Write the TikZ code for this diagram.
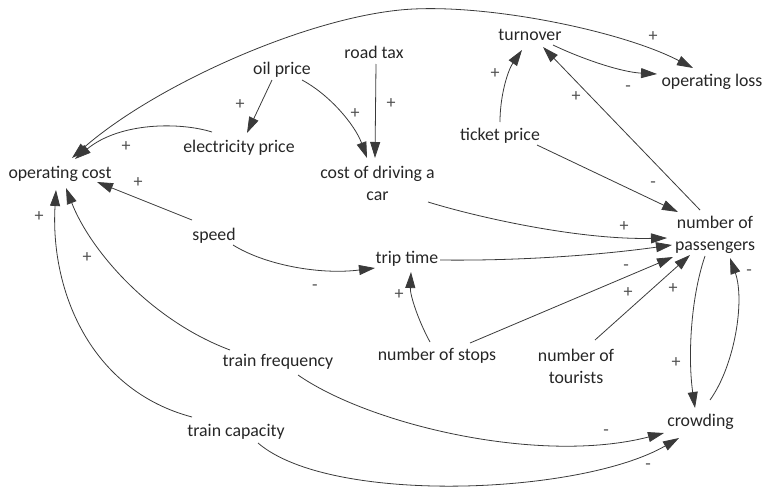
\documentclass[tikz,border=0pt]{standalone}
\usepackage{fontspec}
\setmainfont{Carlito}
\usetikzlibrary{arrows.meta,calc}
\definecolor{txt}{HTML}{262626}
\definecolor{ln}{HTML}{3A3A3A}
\definecolor{sg}{HTML}{505050}
\begin{document}
\begin{tikzpicture}[x=1pt,y=-1pt,
  var/.style={font=\fontsize{17.8}{22}\selectfont, text=txt, inner sep=2pt, text height=13pt, text depth=4pt},
  vartwo/.style={font=\fontsize{17.8}{22}\selectfont, text=txt, inner sep=2pt, align=center},
  sgn/.style={font=\fontsize{18}{20}\selectfont, text=sg, inner sep=0pt},
  arr/.style={color=ln, line width=0.8pt, -{Triangle[length=16pt,width=10pt]}},
  arrboth/.style={color=ln, line width=0.8pt, {Triangle[length=16pt,width=10pt]}-{Triangle[length=16pt,width=10pt]}}
]
\useasboundingbox (0,0) rectangle (765,490);

% variables
\node[var] (opcost) at (60,173.5) {operating cost};
\node[var] (oil) at (282,69.5) {oil price};
\node[var] (road) at (374,53.5) {road tax};
\node[var] (elec) at (239,147.5) {electricity price};
\node[vartwo] (car) at (377.5,183.5) {cost of driving a\\car};
\node[var] (turn) at (530,35.5) {turnover};
\node[var] (loss) at (712,81.5) {operating loss};
\node[var] (ticket) at (500,135.5) {ticket price};
\node[vartwo] (pass) at (715,234.5) {number of\\passengers};
\node[var] (speed) at (214,235.5) {speed};
\node[var] (trip) at (407,259) {trip time};
\node[var] (stops) at (437,355.5) {number of stops};
\node[vartwo] (tour) at (576,366.5) {number of\\tourists};
\node[var] (freq) at (278,362) {train frequency};
\node[var] (cap) at (236,432) {train capacity};
\node[var] (crowd) at (700.5,422) {crowding};

% connectors
\draw[arrboth] ($(opcost.center)+(12,-15.5)$) .. controls (153,87) and (300,20) .. (400,10) .. controls (480,2) and (620,30) .. ($(loss.center)+(-19,-13.5)$);
\draw[arr] ($(elec.center)+(-27,-15.5)$) .. controls (180,122) and (120,122) .. ($(opcost.center)+(15,-14.5)$);
\draw[arr] ($(oil.center)+(-10,10.5)$) -- ($(elec.center)+(8,-14.5)$);
\draw[arr] ($(oil.center)+(20,10.5)$) .. controls (330,95) and (355,125) .. ($(car.center)+(-10.5,-25.5)$);
\draw[arr] ($(road.center)+(2,10.5)$) -- ($(car.center)+(-2.5,-25.5)$);
\draw[arr] ($(turn.center)+(23,9.5)$) .. controls (580,58) and (620,72) .. ($(loss.center)+(-55,-7.5)$);
\draw[arr] ($(ticket.center)+(0,-13.5)$) .. controls (500,95) and (508,70) .. ($(turn.center)+(-8,14.5)$);
\draw[arr] ($(pass.center)+(-15,-24.5)$) -- ($(turn.center)+(13,11.5)$);
\draw[arr] ($(ticket.center)+(37,9.5)$) -- ($(pass.center)+(-37,-22.5)$);
\draw[arr] ($(car.center)+(50.5,18.5)$) .. controls (480,218) and (580,240) .. ($(pass.center)+(-48,3.5)$);
\draw[arr] ($(trip.center)+(33,1)$) .. controls (520,261) and (600,255) .. ($(pass.center)+(-43,10.5)$);
\draw[arr] ($(stops.center)+(33,-12.5)$) -- ($(pass.center)+(-42,22.5)$);
\draw[arr] ($(tour.center)+(19,-26.5)$) -- ($(pass.center)+(-25,20.5)$);
\draw[arr] ($(pass.center)+(-10,21.5)$) .. controls (690,300) and (688,360) .. ($(crowd.center)+(-5.5,-14)$);
\draw[arr] ($(crowd.center)+(9.5,-22)$) .. controls (735,365) and (745,300) .. ($(pass.center)+(15,23.5)$);
\draw[arr] ($(speed.center)+(-22,-15.5)$) -- ($(opcost.center)+(37,8.5)$);
\draw[arr] ($(speed.center)+(19,9.5)$) .. controls (265,265) and (320,275) .. ($(trip.center)+(-32,9)$);
\draw[arr] ($(stops.center)+(-7,-13.5)$) .. controls (418,320) and (410,295) .. ($(trip.center)+(4,13)$);
\draw[arr] ($(freq.center)+(-48,-12)$) .. controls (150,320) and (90,250) .. ($(opcost.center)+(6,14.5)$);
\draw[arr] ($(cap.center)+(-44,-15)$) .. controls (90,390) and (50,290) .. ($(opcost.center)+(-4,16.5)$);
\draw[arr] ($(freq.center)+(20,13)$) .. controls (370,425) and (540,465) .. ($(crowd.center)+(-36.5,11)$);
\draw[arr] ($(cap.center)+(22,11)$) .. controls (330,505) and (580,495) .. ($(crowd.center)+(-21.5,16)$);

% polarity signs
\node[sgn] (s1) at (653,37) {+};
\node[sgn] (s2) at (628,89) {-};
\node[sgn] (s3) at (495,74) {+};
\node[sgn] (s4) at (576,97) {+};
\node[sgn] (s5) at (240,105) {+};
\node[sgn] (s6) at (355,114) {+};
\node[sgn] (s7) at (391,104) {+};
\node[sgn] (s8) at (126,147) {+};
\node[sgn] (s9) at (138,183) {+};
\node[sgn] (s10) at (39,217) {+};
\node[sgn] (s11) at (653,185) {-};
\node[sgn] (s12) at (624,227) {+};
\node[sgn] (s13) at (87,258) {+};
\node[sgn] (s14) at (315,288) {-};
\node[sgn] (s15) at (626,268) {-};
\node[sgn] (s16) at (399,295) {+};
\node[sgn] (s17) at (628,293) {+};
\node[sgn] (s18) at (673,289) {+};
\node[sgn] (s19) at (749,273) {-};
\node[sgn] (s20) at (676,363) {+};
\node[sgn] (s21) at (606,433) {-};
\node[sgn] (s22) at (648,467) {-};
\end{tikzpicture}
\end{document}
